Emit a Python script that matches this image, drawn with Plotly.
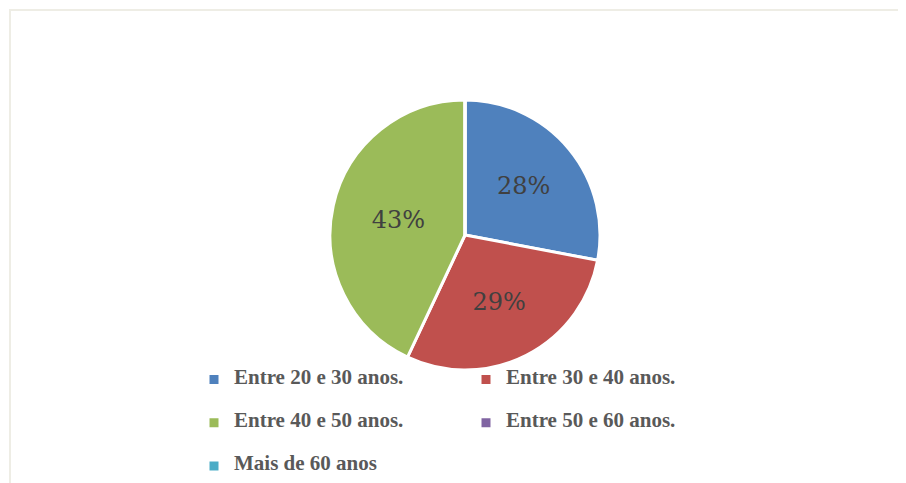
import plotly.graph_objects as go

# faixa etária dos participantes
labels = ["Entre 20 e 30 anos.", "Entre 30 e 40 anos.", "Entre 40 e 50 anos.",
          "Entre 50 e 60 anos.", "Mais de 60 anos"]
values = [28, 29, 43, 0, 0]
colors = ["#4F81BD", "#C0504D", "#9BBB59", "#8064A2", "#4BACC6"]

W, H = 906, 483
OFF = 8  # page body margin
ML, MR, MT, MB = 180, 126, 90, 5
PW, PH = W - ML - MR, H - MT - MB


def px_x(x):
    # screen x -> paper fraction
    return (x - OFF - ML) / PW


def px_y(y):
    # screen y -> paper fraction
    return (H - MB - (y - OFF)) / PH


# spacer lines give the legend rows the wide spacing of the original
legend_text = ["<br><span style='font-size:21px'>%s</span><br>\u00a0" % s for s in labels]

fig = go.Figure(go.Pie(
    labels=legend_text,
    values=values,
    sort=False,
    direction="clockwise",
    rotation=0,
    marker=dict(colors=colors, line=dict(color="white", width=3)),
    textinfo="percent",
    texttemplate="%{percent:.0%}",
    textposition="inside",
    insidetextorientation="horizontal",
    insidetextfont=dict(family="DejaVu Serif", size=24, color="#404040"),
    domain=dict(x=[px_x(330), px_x(600)], y=[px_y(370), px_y(100)]),
    hoverinfo="label+percent",
))

fig.update_layout(
    width=W, height=H,
    margin=dict(l=ML, r=MR, t=MT, b=MB, autoexpand=False),
    paper_bgcolor="white",
    plot_bgcolor="white",
    showlegend=True,
    legend=dict(
        orientation="h",
        x=px_x(194), xanchor="left",
        y=px_y(353), yanchor="top",
        entrywidth=227,
        font=dict(family="Liberation Serif", size=10.3, color="#595959", weight="bold"),
        bgcolor="rgba(0,0,0,0)",
    ),
    shapes=[dict(
        type="rect", xref="paper", yref="paper",
        x0=px_x(10), x1=px_x(W + 30),
        y0=px_y(H + 30), y1=px_y(10),
        line=dict(color="#EEEDE5", width=2), layer="below",
    )],
)

fig.write_html("out.html")
